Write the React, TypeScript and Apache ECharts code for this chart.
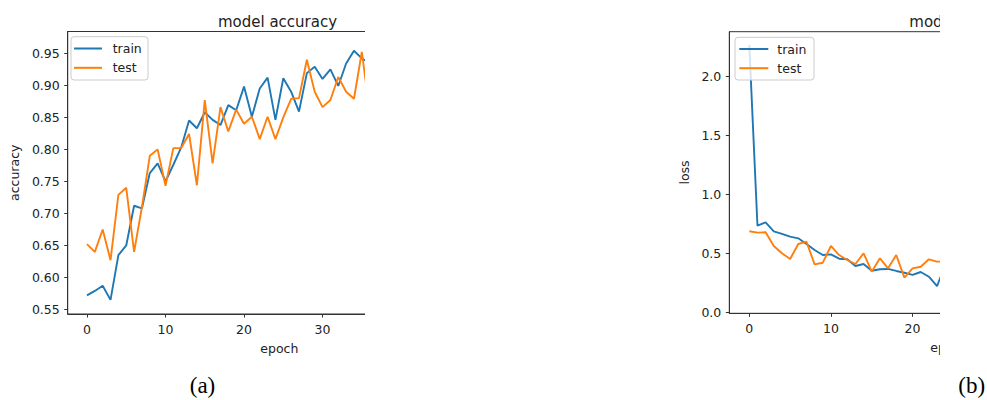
import React, { useEffect, useRef } from "react";
import * as echarts from "echarts";

// ---------- data ----------
const accTrain = [
  0.572, 0.579, 0.587, 0.565, 0.635, 0.650, 0.712, 0.708, 0.763, 0.778,
  0.750, 0.776, 0.803, 0.845, 0.833, 0.858, 0.846, 0.838, 0.869, 0.861,
  0.898, 0.851, 0.895, 0.912, 0.846, 0.911, 0.890, 0.859, 0.919, 0.929,
  0.910, 0.925, 0.899, 0.934, 0.954, 0.942, 0.935,
];
const accTest = [
  0.652, 0.640, 0.675, 0.627, 0.729, 0.740, 0.640, 0.710, 0.790, 0.800,
  0.743, 0.802, 0.802, 0.824, 0.744, 0.877, 0.778, 0.866, 0.828, 0.862,
  0.840, 0.851, 0.816, 0.851, 0.816, 0.850, 0.879, 0.880, 0.940, 0.890,
  0.866, 0.877, 0.913, 0.890, 0.879, 0.952, 0.86,
];
const lossTrain = [
  2.27, 0.735, 0.764, 0.687, 0.665, 0.642, 0.628, 0.580, 0.529, 0.486,
  0.492, 0.455, 0.450, 0.393, 0.410, 0.353, 0.365, 0.368, 0.351, 0.336,
  0.317, 0.342, 0.302, 0.223, 0.40,
];
const lossTest = [
  0.688, 0.676, 0.679, 0.563, 0.501, 0.452, 0.580, 0.600, 0.407, 0.421,
  0.563, 0.486, 0.444, 0.410, 0.501, 0.345, 0.458, 0.373, 0.486, 0.294,
  0.373, 0.387, 0.450, 0.430, 0.43,
];
const accEpochTicks = [0, 10, 20, 30];
const lossEpochTicks = [0, 10, 20];
const accTicks = [0.55, 0.6, 0.65, 0.7, 0.75, 0.8, 0.85, 0.9, 0.95];
const lossTicks = [0, 0.5, 1.0, 1.5, 2.0];
const seriesNames = ["train", "test"];
const titles = ["model accuracy", "model loss"];
const panelLabels = ["(a)", "(b)"];

const BLUE = "#1f77b4";
const ORANGE = "#ff7f0e";
const AX = "#333";
const TXT = "#222";
const FONT = "DejaVu Sans";

function pairs(arr: number[]) {
  return arr.map((v, i) => [i, v]);
}

function legendGraphic(box: { x: number; y: number; w: number; h: number; lx0: number; lx1: number; tx: number; rows: number[] }) {
  const colors = [BLUE, ORANGE];
  const els: any[] = [
    {
      type: "rect",
      z: 20,
      shape: { x: box.x, y: box.y, width: box.w, height: box.h, r: 3 },
      style: { fill: "rgba(255,255,255,0.8)", stroke: "#cccccc", lineWidth: 1 },
    },
  ];
  seriesNames.forEach((name, i) => {
    els.push({
      type: "line",
      z: 21,
      shape: { x1: box.lx0, y1: box.rows[i], x2: box.lx1, y2: box.rows[i] },
      style: { stroke: colors[i], lineWidth: 2 },
    });
    els.push({
      type: "text",
      z: 21,
      x: box.tx,
      y: box.rows[i],
      style: {
        text: name,
        fontFamily: FONT,
        fontSize: 12.5,
        fill: TXT,
        textAlign: "left",
        textVerticalAlign: "middle",
      },
    });
  });
  return els;
}

function buildOption(cfg: {
  title: string;
  yName: string;
  gridLeft: number;
  gridTop: number;
  gridWidth: number;
  gridHeight: number;
  yMin: number;
  yMax: number;
  yTicks: number[];
  xTicks: number[];
  yDigits: number;
  yNameGap: number;
  train: number[];
  test: number[];
  legend: any[];
}) {
  const line = (name: string, data: number[], color: string) => ({
    type: "line",
    name,
    data: pairs(data),
    symbol: "none",
    showSymbol: false,
    color,
    lineStyle: { color, width: 1.9 },
    clip: true,
    z: 2,
  });
  return {
    animation: false,
    title: {
      text: cfg.title,
      left: "center",
      top: 9,
      textStyle: { fontFamily: FONT, fontSize: 15, fontWeight: "normal", color: TXT },
    },
    grid: {
      left: cfg.gridLeft,
      top: cfg.gridTop,
      width: cfg.gridWidth,
      height: cfg.gridHeight,
      show: true,
      borderColor: AX,
      borderWidth: 1,
      backgroundColor: "transparent",
    },
    graphic: cfg.legend,
    xAxis: {
      type: "value",
      min: -2.45,
      max: 51.45,
      name: "epoch",
      nameLocation: "middle",
      nameGap: 28,
      nameTextStyle: { fontFamily: FONT, fontSize: 12.5, color: TXT },
      axisLine: { show: true, onZero: false, lineStyle: { color: AX, width: 1 } },
      axisTick: { show: true, inside: false, length: 3.5, customValues: cfg.xTicks, lineStyle: { color: AX } },
      axisLabel: {
        customValues: cfg.xTicks,
        margin: 9,
        fontFamily: FONT,
        fontSize: 12.5,
        color: TXT,
        formatter: (v: number) => String(v),
      },
      splitLine: { show: false },
    },
    yAxis: {
      type: "value",
      min: cfg.yMin,
      max: cfg.yMax,
      name: cfg.yName,
      nameLocation: "middle",
      nameGap: cfg.yNameGap,
      nameRotate: 90,
      nameTextStyle: { fontFamily: FONT, fontSize: 12.5, color: TXT },
      axisLine: { show: true, onZero: false, lineStyle: { color: AX, width: 1 } },
      axisTick: { show: true, inside: false, length: 3.5, customValues: cfg.yTicks, lineStyle: { color: AX } },
      axisLabel: {
        customValues: cfg.yTicks,
        margin: 8,
        fontFamily: FONT,
        fontSize: 12.5,
        color: TXT,
        formatter: (v: number) => v.toFixed(cfg.yDigits),
      },
      splitLine: { show: false },
    },
    series: [line(seriesNames[0], cfg.train, BLUE), line(seriesNames[1], cfg.test, ORANGE)],
  };
}

function EChart({ option, width, height }: { option: any; width: number; height: number }) {
  const ref = useRef<HTMLDivElement | null>(null);
  useEffect(() => {
    if (!ref.current) return;
    const chart = echarts.init(ref.current, null, { renderer: "svg" });
    chart.setOption(option);
    return () => chart.dispose();
  }, []);
  return <div ref={ref} style={{ width, height }} />;
}

export default function App() {
  const accOption = buildOption({
    title: titles[0],
    yName: "accuracy",
    gridLeft: 64,
    gridTop: 31.5,
    gridWidth: 427,
    gridHeight: 282.5,
    yMin: 0.543,
    yMax: 0.984,
    yTicks: accTicks,
    xTicks: accEpochTicks,
    yDigits: 2,
    yNameGap: 43,
    train: accTrain,
    test: accTest,
    legend: legendGraphic({ x: 71, y: 36.7, w: 77, h: 43.3, lx0: 74, lx1: 102, tx: 112.7, rows: [48.5, 67.8] }),
  });
  const lossOption = buildOption({
    title: titles[1],
    yName: "loss",
    gridLeft: 69.3,
    gridTop: 31.7,
    gridWidth: 440,
    gridHeight: 281.6,
    yMin: -0.0085,
    yMax: 2.382,
    yTicks: lossTicks,
    xTicks: lossEpochTicks,
    yDigits: 1,
    yNameGap: 36,
    train: lossTrain,
    test: lossTest,
    legend: legendGraphic({ x: 75, y: 37.3, w: 79, h: 42.7, lx0: 79.3, lx1: 108.3, tx: 117.3, rows: [49, 68.2] }),
  });
  const labelOption = {
    animation: false,
    graphic: [
      {
        type: "text",
        x: 202.5,
        y: 385.5,
        style: {
          text: panelLabels[0],
          fontFamily: "Liberation Serif",
          fontSize: 23,
          fill: "#000",
          textAlign: "center",
          textVerticalAlign: "middle",
        },
      },
      {
        type: "text",
        x: 971.7,
        y: 385.5,
        style: {
          text: panelLabels[1],
          fontFamily: "Liberation Serif",
          fontSize: 23,
          fill: "#000",
          textAlign: "center",
          textVerticalAlign: "middle",
        },
      },
    ],
  };
  return (
    <div
      style={{
        position: "absolute",
        left: 0,
        top: 0,
        width: 987,
        height: 400,
        overflow: "hidden",
        background: "#fff",
      }}
    >
      <div style={{ position: "absolute", left: 0, top: 0 }}>
        <EChart option={labelOption} width={987} height={400} />
      </div>
      <div style={{ position: "absolute", left: 0, top: 0, width: 365, height: 400, overflow: "hidden" }}>
        <EChart option={accOption} width={555} height={400} />
      </div>
      <div style={{ position: "absolute", left: 660, top: 0, width: 280, height: 400, overflow: "hidden" }}>
        <EChart option={lossOption} width={578.6} height={400} />
      </div>
    </div>
  );
}
